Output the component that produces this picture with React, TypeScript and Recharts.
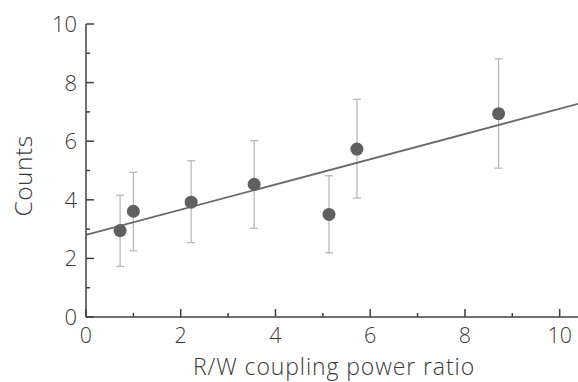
import React from 'react';
import {
  ScatterChart,
  Scatter,
  XAxis,
  YAxis,
  ErrorBar,
  ReferenceLine,
} from 'recharts';

const ratio = [0.72, 1.0, 2.22, 3.55, 5.13, 5.72, 8.71];
const counts = [2.95, 3.61, 3.92, 4.53, 3.5, 5.73, 6.94];
const countsLow = [1.73, 2.26, 2.54, 3.03, 2.19, 4.06, 5.08];
const countsHigh = [4.16, 4.94, 5.33, 6.02, 4.82, 7.43, 8.81];

// linear fit, end points
const fitStart = { x: 0, y: 2.8 };
const fitEnd = { x: 10.45, y: 7.3 };

const xTicks = [0, 1, 2, 3, 4, 5, 6, 7, 8, 9, 10];
const yTicks = [0, 1, 2, 3, 4, 5, 6, 7, 8, 9, 10];

const points = ratio.map((x, i) => ({
  x,
  y: counts[i],
  err: [counts[i] - countsLow[i], countsHigh[i] - counts[i]],
}));

const AXIS = '#3f3f3f';
const FONT = '"Open Sans", "DejaVu Sans", sans-serif';
const TXT = '#3a3a3a';

const tickLen = (v: number) => (v % 2 === 0 ? 8 : 4);

const BottomTick = ({ x, y, payload }: any) => (
  <g>
    <line x1={x} x2={x} y1={y} y2={y - tickLen(payload.value)} stroke={AXIS} strokeWidth={1.5} />
    {payload.value % 2 === 0 && (
      <text x={x} y={y + 26} textAnchor="middle" fontSize={21.5} fontWeight={300} fill={TXT} fontFamily={FONT}>
        {payload.value}
      </text>
    )}
  </g>
);

const TopTick = ({ x, y, payload }: any) => (
  <line x1={x} x2={x} y1={y} y2={y + tickLen(payload.value)} stroke={AXIS} strokeWidth={1.5} />
);

const LeftTick = ({ x, y, payload }: any) => (
  <g>
    <line x1={x} x2={x + tickLen(payload.value)} y1={y} y2={y} stroke={AXIS} strokeWidth={1.5} />
    {payload.value % 2 === 0 && (
      <text x={x - 9} y={y + 8} textAnchor="end" fontSize={22} fontWeight={300} fill={TXT} fontFamily={FONT}>
        {payload.value}
      </text>
    )}
  </g>
);

const RightTick = ({ x, y, payload }: any) => (
  <line x1={x} x2={x - tickLen(payload.value)} y1={y} y2={y} stroke={AXIS} strokeWidth={1.5} />
);

export default function App() {
  return (
    <div style={{ position: 'absolute', left: 0, top: 0, width: 578, height: 382, overflow: 'hidden', background: '#fff' }}>
      <ScatterChart width={581} height={382} margin={{ top: 24, right: 0, left: 0, bottom: 0 }}>
        <XAxis
          xAxisId="b"
          type="number"
          dataKey="x"
          domain={[0, fitEnd.x]}
          ticks={xTicks}
          allowDataOverflow
          height={65}
          tickSize={0}
          tickMargin={0}
          tick={<BottomTick />}
          axisLine={{ stroke: AXIS, strokeWidth: 1.5 }}
          label={{
            content: () => (
              <text
                x={334}
                y={375}
                textAnchor="middle"
                fontSize={23}
                fontWeight={300}
                letterSpacing={0.9}
                fill={TXT}
                fontFamily={FONT}
              >
                R/W coupling power ratio
              </text>
            ),
          }}
        />
        <XAxis
          xAxisId="t"
          orientation="top"
          type="number"
          domain={[0, fitEnd.x]}
          ticks={xTicks}
          allowDataOverflow
          height={0}
          tickSize={0}
          tickMargin={0}
          tick={<TopTick />}
          axisLine={{ stroke: AXIS, strokeWidth: 1.5 }}
        />
        <YAxis
          yAxisId="l"
          type="number"
          dataKey="y"
          domain={[0, 10]}
          ticks={yTicks}
          width={86}
          tickSize={0}
          tickMargin={0}
          tick={<LeftTick />}
          axisLine={{ stroke: AXIS, strokeWidth: 1.5 }}
          label={{
            content: () => (
              <text
                x={32}
                y={176}
                transform="rotate(-90 32 176)"
                textAnchor="middle"
                fontSize={24.5}
                fontWeight={300}
                letterSpacing={0.5}
                fill={TXT}
                fontFamily={FONT}
              >
                Counts
              </text>
            ),
          }}
        />
        <YAxis
          yAxisId="r"
          orientation="right"
          type="number"
          domain={[0, 10]}
          ticks={yTicks}
          width={0}
          tickSize={0}
          tickMargin={0}
          tick={<RightTick />}
          axisLine={{ stroke: AXIS, strokeWidth: 1.5 }}
        />
        <Scatter
          xAxisId="b"
          yAxisId="l"
          data={points}
          fill="#606060"
          isAnimationActive={false}
          shape={(p: any) => <circle cx={p.cx} cy={p.cy} r={6.5} fill="#5f5f5f" />}
        >
          <ErrorBar dataKey="err" direction="y" width={4} stroke="#b5b5b5" strokeWidth={1.2} isAnimationActive={false} />
        </Scatter>
        <ReferenceLine
          xAxisId="b"
          yAxisId="l"
          segment={[fitStart, fitEnd]}
          stroke="#6a6a6a"
          strokeWidth={1.8}
          ifOverflow="visible"
        />
      </ScatterChart>
    </div>
  );
}
